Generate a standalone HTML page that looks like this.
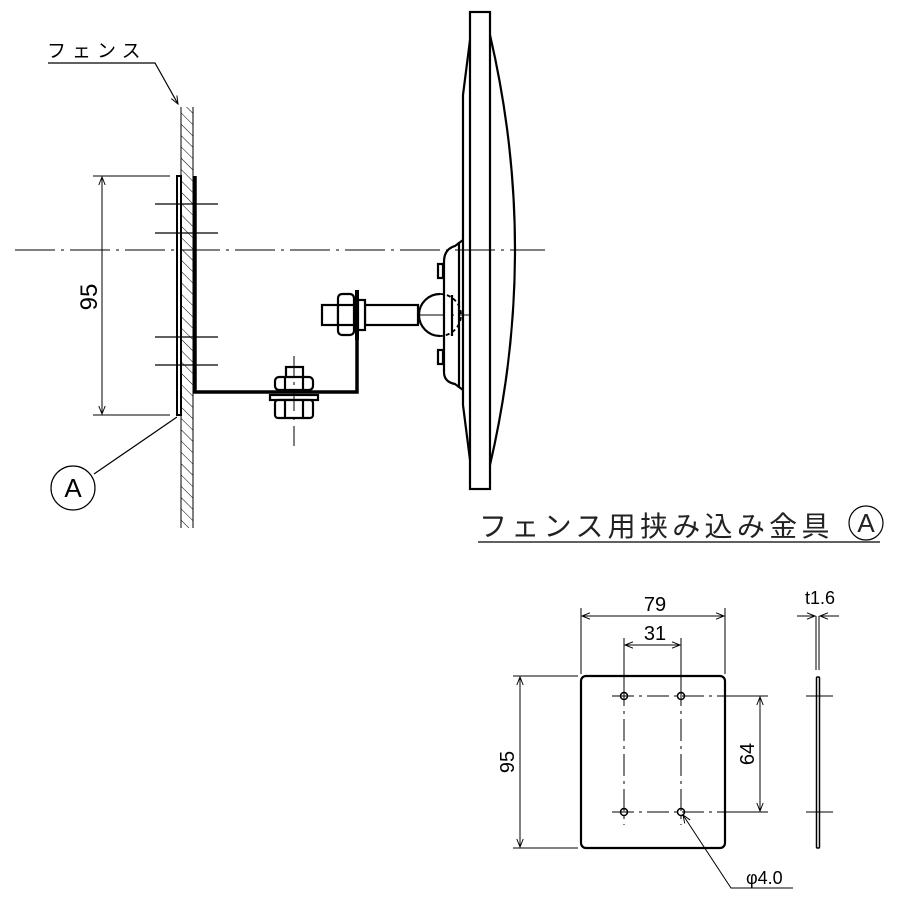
<!DOCTYPE html>
<html><head><meta charset="utf-8"><style>html,body{margin:0;padding:0;background:#fff}svg{display:block}</style></head>
<body>
<svg width="900" height="900" viewBox="0 0 900 900" xmlns="http://www.w3.org/2000/svg" font-family="Liberation Sans, Noto Sans CJK JP, sans-serif">
<defs>
<pattern id="h" width="8" height="8" patternUnits="userSpaceOnUse" patternTransform="rotate(-45)"><line x1="0" y1="0" x2="0" y2="8" stroke="#000" stroke-width="1"/></pattern>
<marker id="a" viewBox="0 0 10 10" refX="10" refY="5" markerWidth="12" markerHeight="8" orient="auto-start-reverse" markerUnits="userSpaceOnUse"><path d="M0,1 L10,5 L0,9" fill="none" stroke="#000" stroke-width="1.2"/></marker>
</defs>
<g fill="none" stroke="#000">
<rect x="181" y="107" width="12" height="421" fill="url(#h)" stroke="none"/>
<line x1="181" y1="107" x2="181" y2="528" stroke-width="1"/>
<line x1="193" y1="107" x2="193" y2="528" stroke-width="1"/>
<polyline points="48,63 155,63 178,104" stroke-width="1.2" marker-end="url(#a)"/>
<rect x="177" y="176" width="4" height="239" stroke-width="2" fill="#fff"/>
<polyline points="195,176 195,392 357,392 357,290" stroke-width="3.5"/>
<line x1="15" y1="250" x2="545" y2="250" stroke-width="1" stroke-dasharray="40,6,3,6"/>
<line x1="325" y1="315" x2="470" y2="315" stroke-width="1" stroke-dasharray="30,6,3,6"/>
<g stroke-width="1.2"><line x1="155" y1="204" x2="218" y2="204"/><line x1="155" y1="233" x2="218" y2="233"/><line x1="155" y1="337" x2="218" y2="337"/><line x1="155" y1="365" x2="218" y2="365"/></g>
<g stroke-width="1"><line x1="93" y1="176" x2="170" y2="176"/><line x1="93" y1="415" x2="170" y2="415"/>
<line x1="102" y1="177" x2="102" y2="414" marker-start="url(#a)" marker-end="url(#a)"/></g>
<line x1="94" y1="474" x2="177" y2="417" stroke-width="1.2"/>
<circle cx="73" cy="488" r="22" stroke-width="1.2"/>
<g stroke-width="2.2" fill="#fff">
<rect x="365" y="305" width="53" height="20"/>
<rect x="322" y="305" width="16" height="20"/>
<rect x="338" y="294" width="16" height="41" rx="4"/>
<line x1="338" y1="305" x2="354" y2="305"/><line x1="338" y1="325" x2="354" y2="325"/>
<rect x="358" y="300" width="7" height="30"/>
</g>
<line x1="357" y1="290" x2="357" y2="340" stroke-width="4"/>
<path d="M440,294 A21,21 0 0 0 440,336" stroke-width="2.2"/>
<path d="M440,294 A21,21 0 0 1 440,336" stroke-width="1.8" stroke-dasharray="4,3"/>
<g stroke-width="2.2" fill="#fff">
<rect x="286" y="367" width="17" height="11"/>
<rect x="275" y="377" width="38" height="13" rx="4"/>
<rect x="270" y="395" width="48" height="5"/>
<rect x="275" y="400" width="38" height="18" rx="3"/>
<line x1="285" y1="400" x2="285" y2="418"/><line x1="303" y1="400" x2="303" y2="418"/>
<line x1="285" y1="377" x2="285" y2="390"/><line x1="303" y1="377" x2="303" y2="390"/>
</g>
<line x1="294" y1="356" x2="294" y2="447" stroke-width="1" stroke-dasharray="20,6,3,6"/>
<g stroke-width="2.2">
<rect x="470" y="12" width="20" height="477"/>
<path d="M490,35 Q540,250 490,465"/>
<path d="M470,40 L463,95 L463,405 L470,460"/>
<path d="M463,240 L455,246 Q444,249 444,262 L444,372 Q444,382 455,384 L463,390"/>
<line x1="459" y1="242" x2="459" y2="388"/>
<line x1="452" y1="295" x2="452" y2="336"/>
<rect x="438" y="264" width="5" height="14"/>
<rect x="438" y="350" width="5" height="14"/>
</g>
<line x1="478" y1="542" x2="880" y2="542" stroke-width="1.2"/>
<circle cx="866" cy="523" r="17" stroke-width="1.2"/>
<rect x="581" y="676" width="144" height="172" rx="5" stroke-width="2.2"/>
<g stroke-width="1" stroke-dasharray="22,5,3,5">
<line x1="612" y1="696" x2="725" y2="696"/><line x1="612" y1="812" x2="725" y2="812"/>
<line x1="624" y1="684" x2="624" y2="825"/><line x1="681" y1="684" x2="681" y2="825"/>
</g>
<g stroke-width="1.5"><circle cx="624" cy="696" r="3.5"/><circle cx="681" cy="696" r="3.5"/><circle cx="624" cy="812" r="3.5"/><circle cx="681" cy="812" r="3.5"/></g>
<g stroke-width="1">
<line x1="581" y1="608" x2="581" y2="674"/><line x1="725" y1="608" x2="725" y2="674"/>
<line x1="582" y1="616" x2="724" y2="616" marker-start="url(#a)" marker-end="url(#a)"/>
<line x1="624" y1="638" x2="624" y2="684"/><line x1="681" y1="638" x2="681" y2="684"/>
<line x1="625" y1="645" x2="680" y2="645" marker-start="url(#a)" marker-end="url(#a)"/>
<line x1="513" y1="676" x2="578" y2="676"/><line x1="513" y1="848" x2="578" y2="848"/>
<line x1="520" y1="677" x2="520" y2="847" marker-start="url(#a)" marker-end="url(#a)"/>
<line x1="725" y1="696" x2="768" y2="696"/><line x1="725" y1="812" x2="768" y2="812"/>
<line x1="760" y1="697" x2="760" y2="811" marker-start="url(#a)" marker-end="url(#a)"/>
<polyline points="793,888 731,888 683,815" marker-end="url(#a)"/>
<line x1="816" y1="616" x2="816" y2="670"/><line x1="819" y1="616" x2="819" y2="670"/>
<line x1="797" y1="616" x2="815" y2="616" marker-end="url(#a)"/>
<line x1="839" y1="616" x2="820" y2="616" marker-end="url(#a)"/>
<line x1="806" y1="696" x2="833" y2="696"/><line x1="806" y1="812" x2="833" y2="812"/>
</g>
<rect x="816.5" y="677" width="3" height="171" stroke-width="1.5" rx="1"/>
</g>
<g fill="#000">
<text x="47" y="57" font-size="19" letter-spacing="6">フェンス</text>
<text x="97" y="297" font-size="24" text-anchor="middle" transform="rotate(-90 97 297)">95</text>
<text x="73" y="497" font-size="26" text-anchor="middle">A</text>
<text x="479" y="536" font-size="28" letter-spacing="4.3" fill="#222">フェンス用挟み込み金具</text>
<text x="866" y="532" font-size="26" text-anchor="middle" fill="#222">A</text>
<text x="655" y="611" font-size="20" text-anchor="middle">79</text>
<text x="655" y="640" font-size="20" text-anchor="middle">31</text>
<text x="820" y="604" font-size="18" text-anchor="middle">t1.6</text>
<text x="514" y="762" font-size="20" text-anchor="middle" transform="rotate(-90 514 762)">95</text>
<text x="754" y="754" font-size="20" text-anchor="middle" transform="rotate(-90 754 754)">64</text>
<text x="746" y="884" font-size="18">φ4.0</text>
</g>
</svg>
</body></html>
